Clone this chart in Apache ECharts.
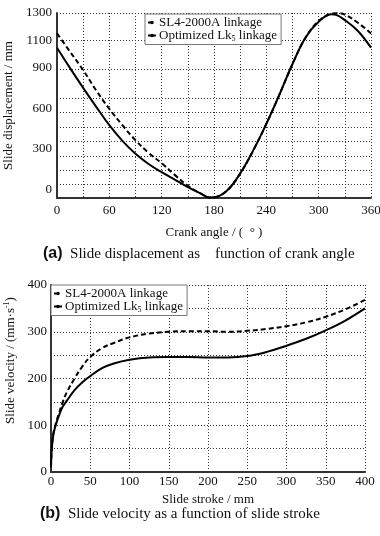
<!DOCTYPE html>
<html>
<head>
<meta charset="utf-8">
<script src="https://cdn.jsdelivr.net/npm/echarts@6/dist/echarts.min.js"></script>
<style>
  html, body { margin: 0; padding: 0; background: #fff; }
  #chart { width: 380px; height: 536px; }
</style>
</head>
<body>
<div id="chart"></div>
<script>
// (a) displacement vs crank angle
var angles   = [0, 15, 30, 45, 60, 75, 90, 105, 120, 135, 150, 165, 175, 180, 195, 210, 225, 240, 255, 270, 285, 300, 315, 320, 330, 345, 360];
var dispSL4  = [1150, 1015, 880, 730, 595, 475, 365, 272, 196, 110, 30, -28, -56, -55, -5, 120, 290, 485, 700, 925, 1120, 1240, 1296, 1299, 1288, 1228, 1150];
var dispLk5  = [1045, 895, 750, 610, 475, 360, 265, 190, 130, 75, 20, -28, -56, -55, -5, 120, 290, 485, 700, 925, 1120, 1236, 1290, 1286, 1248, 1168, 1045];
var dispLabels = [0, 300, 600, 900, 1100, 1300];
var dispGrid   = [43, 146, 249, 359, 462, 572, 675, 888, 1100, 1300];
var angleLabels = [0, 60, 120, 180, 240, 300, 360];

// (b) velocity vs slide stroke
var strokes = [0, 1, 3, 6, 10, 15, 20, 30, 40, 50, 65, 80, 100, 125, 150, 175, 200, 225, 250, 275, 300, 325, 350, 375, 400];
var velSL4  = [10, 50, 82, 103, 125, 150, 170, 200, 226, 246, 265, 276, 288, 296, 300, 301, 301, 300, 302, 306, 312, 320, 332, 348, 368];
var velLk5  = [10, 50, 80, 100, 120, 140, 152, 175, 192, 205, 222, 232, 240, 245, 246, 246, 245, 245, 248, 257, 270, 285, 303, 324, 350];
var velLabels = [0, 100, 200, 300, 400];
var strokeLabels = [0, 50, 100, 150, 200, 250, 300, 350, 400];

var names = ['SL4-2000A linkage', 'Optimized Lk{sub|5} linkage'];

function pairs(xs, ys) {
    return xs.map(function(x, i) { return [x, ys[i]]; });
}

var serif = 'Liberation Serif';
var axisLine = { show: true, onZero: false, lineStyle: { color: '#333', width: 2 } };
var gridLine = { show: true, lineStyle: { color: '#333', width: 1, type: [1, 2] } };
var labelStyle = { color: '#111', fontFamily: serif, fontSize: 13, formatter: function(v) { return String(v); } };
var rich = {
    sub: { fontFamily: serif, fontSize: 8, verticalAlign: 'bottom', padding: [6, 0, 0, 0], color: '#111' },
    sup: { fontFamily: serif, fontSize: 8, color: '#111', padding: [0, 0, 6, 0] }
};
var captionRich = { b: { fontFamily: 'Liberation Sans', fontWeight: 'bold', fontSize: 16, fill: '#111' } };

var legendBase = {
    orient: 'vertical',
    itemWidth: 8,
    itemHeight: 2,
    itemGap: 0,
    padding: [2, 4, 2, 2],
    borderColor: '#777',
    borderWidth: 1,
    backgroundColor: '#fff',
    textStyle: { fontFamily: serif, fontSize: 13, color: '#111', padding: [0, 0, 0, -2], rich: rich },
    data: names
};

var chart = echarts.init(document.getElementById('chart'));
var option = {
    animation: false,
    backgroundColor: '#fff',
    grid: [
        { left: 57, top: 13, right: 9, bottom: 338, outerBoundsMode: 'none' },
        { left: 51, top: 285, right: 15, bottom: 64, outerBoundsMode: 'none' }
    ],
    legend: [
        Object.assign({}, legendBase, { left: 145, top: 14 }),
        Object.assign({}, legendBase, { left: 51, top: 285 })
    ],
    xAxis: [{
        gridIndex: 0,
        type: 'value',
        min: 0,
        max: 360,
        interval: 30,
        name: 'Crank angle / (  ° )',
        nameLocation: 'middle',
        nameGap: 28,
        nameTextStyle: { fontFamily: serif, fontSize: 13, color: '#111' },
        axisLine: axisLine,
        axisTick: { show: false },
        splitLine: gridLine,
        axisLabel: Object.assign({ customValues: angleLabels, margin: 6 }, labelStyle)
    }, {
        gridIndex: 1,
        type: 'value',
        min: 0,
        max: 400,
        interval: 50,
        name: 'Slide stroke / mm',
        nameLocation: 'middle',
        nameGap: 21,
        nameTextStyle: { fontFamily: serif, fontSize: 13, color: '#111' },
        axisLine: axisLine,
        axisTick: { show: false },
        splitLine: gridLine,
        axisLabel: Object.assign({ customValues: strokeLabels, margin: 3 }, labelStyle)
    }],
    yAxis: [{
        gridIndex: 0,
        type: 'value',
        min: -60,
        max: 1300,
        name: 'Slide displacement / mm',
        nameLocation: 'middle',
        nameGap: 35,
        nameTextStyle: { fontFamily: serif, fontSize: 13, color: '#111' },
        axisLine: axisLine,
        axisTick: { show: false, customValues: dispGrid },
        splitLine: gridLine,
        axisLabel: Object.assign({ customValues: dispLabels, margin: 5 }, labelStyle)
    }, {
        gridIndex: 1,
        type: 'value',
        min: 0,
        max: 400,
        interval: 50,
        name: 'Slide velocity / (mm·s{sup|-1})',
        nameLocation: 'middle',
        nameGap: 30,
        nameTextStyle: { fontFamily: serif, fontSize: 13, color: '#111', rich: rich, padding: [0, 0, 0, 36] },
        axisLine: axisLine,
        axisTick: { show: false },
        splitLine: gridLine,
        axisLabel: Object.assign({ customValues: velLabels, margin: 4 }, labelStyle)
    }],
    series: [{
        name: names[0],
        type: 'line',
        xAxisIndex: 0, yAxisIndex: 0,
        data: pairs(angles, dispSL4),
        smooth: 0.4,
        showSymbol: false,
        lineStyle: { color: '#000', width: 2, type: [5, 3] },
        itemStyle: { color: '#000' }
    }, {
        name: names[1],
        type: 'line',
        xAxisIndex: 0, yAxisIndex: 0,
        data: pairs(angles, dispLk5),
        smooth: 0.4,
        showSymbol: false,
        lineStyle: { color: '#000', width: 2 },
        itemStyle: { color: '#000' }
    }, {
        name: names[0],
        type: 'line',
        xAxisIndex: 1, yAxisIndex: 1,
        data: pairs(strokes, velSL4),
        smooth: 0.4,
        showSymbol: false,
        lineStyle: { color: '#000', width: 2, type: [5, 3] },
        itemStyle: { color: '#000' }
    }, {
        name: names[1],
        type: 'line',
        xAxisIndex: 1, yAxisIndex: 1,
        data: pairs(strokes, velLk5),
        smooth: 0.4,
        showSymbol: false,
        lineStyle: { color: '#000', width: 2 },
        itemStyle: { color: '#000' }
    }],
    graphic: [{
        type: 'text',
        left: 43,
        top: 246,
        style: {
            text: '{b|(a)}  Slide displacement as    function of crank angle',
            fontFamily: serif,
            fontSize: 15,
            fill: '#111',
            rich: captionRich
        }
    }, {
        type: 'text',
        left: 40,
        top: 506,
        style: {
            text: '{b|(b)}  Slide velocity as a function of slide stroke',
            fontFamily: serif,
            fontSize: 15,
            fill: '#111',
            rich: captionRich
        }
    }]
};
chart.setOption(option);
</script>
</body>
</html>
